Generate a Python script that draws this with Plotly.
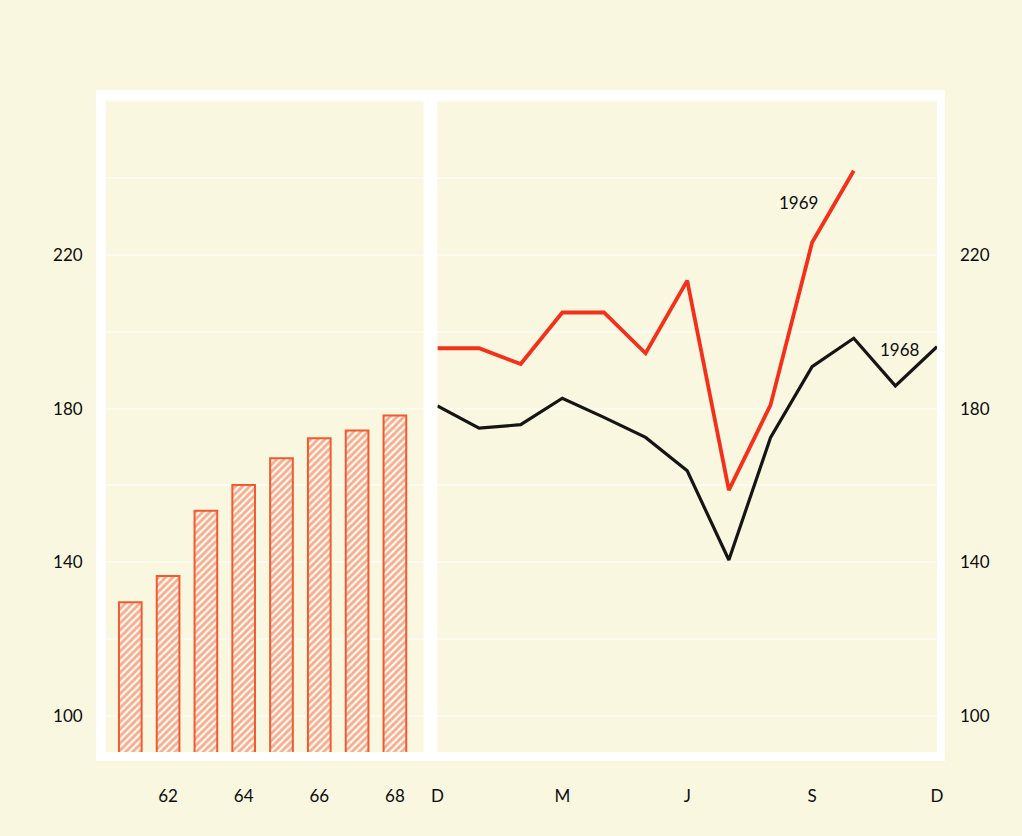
import plotly.graph_objects as go

# ---- data ----
bar_years = [61, 62, 63, 64, 65, 66, 67, 68]
bar_values = [129.6, 136.4, 153.4, 160.1, 167.1, 172.3, 174.3, 178.2]
bar_ticks = [62, 64, 66, 68]

months = list(range(13))  # Dec .. Dec
month_tickvals = [0, 3, 6, 9, 12]
month_ticktext = ["D", "M", "J", "S", "D"]
y1969 = [195.7, 195.7, 191.6, 205.0, 205.0, 194.4, 213.3, 158.8, 180.9, 223.2, 241.9]
y1968 = [180.7, 174.9, 175.8, 182.7, 177.7, 172.5, 163.8, 140.6, 172.4, 190.9, 198.3, 185.9, 196.1]
y_ticks = [100, 140, 180, 220]
y_grid = [100, 120, 140, 160, 180, 200, 220, 240, 260]

W, H = 1022, 836
CREAM = "#f9f7e0"
RED_BAR = "#f25a30"
RED_LINE = "#f5301a"
FONT = "Lato"
TXT = "#0d0d0d"

def px_x(p):
    return p / W

def px_y(p):
    return 1 - p / H

yrange = [90.63, 260.3]
L0, L1 = 101, 423
R0, R1 = 437, 943
T0, B0 = 100, 752

fig = go.Figure()

fig.add_trace(go.Bar(
    x=bar_years, y=bar_values, width=0.6, xaxis="x", yaxis="y",
    marker=dict(color=CREAM, line=dict(color=RED_BAR, width=2),
                pattern=dict(shape="/", fgcolor=RED_BAR, bgcolor="#fdfcf0", size=5, solidity=0.55)),
    showlegend=False, hoverinfo="skip",
))

fig.add_trace(go.Scatter(
    x=months[:len(y1968)], y=y1968, mode="lines", xaxis="x2", yaxis="y2",
    line=dict(color="#151515", width=3.2), showlegend=False, cliponaxis=False,
))
fig.add_trace(go.Scatter(
    x=months[:len(y1969)], y=y1969, mode="lines", xaxis="x2", yaxis="y2",
    line=dict(color=RED_LINE, width=3.8), showlegend=False, cliponaxis=False,
))

axis_font = dict(family=FONT, size=17, color=TXT)
grid_col = "rgba(255,255,255,0.5)"

fig.update_layout(
    width=W, height=H,
    margin=dict(l=0, r=0, t=0, b=0),
    paper_bgcolor=CREAM, plot_bgcolor=CREAM,
    font=axis_font,
    xaxis=dict(domain=[px_x(L0), px_x(L1)], range=[60.35, 68.76],
               tickvals=bar_ticks, ticktext=[str(t) for t in bar_ticks],
               showgrid=False, zeroline=False, showline=False,
               ticks="", ticklabelstandoff=32, tickfont=axis_font),
    yaxis=dict(domain=[px_y(B0), px_y(T0)], range=yrange,
               tickvals=y_grid, ticktext=[str(v) if v in y_ticks else "" for v in y_grid],
               showgrid=True, gridcolor=grid_col, gridwidth=1.5,
               zeroline=False, showline=False, ticks="", ticklabelstandoff=22,
               tickfont=axis_font),
    xaxis2=dict(domain=[px_x(R0), px_x(R1)], range=[0, 12], anchor="y2",
                tickvals=month_tickvals, ticktext=month_ticktext,
                showgrid=False, zeroline=False, showline=False,
                ticks="", ticklabelstandoff=32, tickfont=axis_font),
    yaxis2=dict(domain=[px_y(B0), px_y(T0)], range=yrange, anchor="x2", side="right",
                tickvals=y_grid, ticktext=[str(v) if v in y_ticks else "" for v in y_grid],
                showgrid=True, gridcolor=grid_col, gridwidth=1.5,
                zeroline=False, showline=False, ticks="", ticklabelstandoff=22,
                tickfont=axis_font),
    shapes=[
        dict(type="rect", xref="paper", yref="paper", layer="below",
             x0=px_x(91), x1=px_x(951), y0=px_y(761), y1=px_y(90),
             fillcolor="white", line=dict(width=0)),
        dict(type="rect", xref="paper", yref="paper", layer="below",
             x0=px_x(L0), x1=px_x(L1), y0=px_y(B0), y1=px_y(T0),
             fillcolor=CREAM, line=dict(width=0)),
        dict(type="rect", xref="paper", yref="paper", layer="below",
             x0=px_x(R0), x1=px_x(R1), y0=px_y(B0), y1=px_y(T0),
             fillcolor=CREAM, line=dict(width=0)),
    ],
    annotations=[
        dict(x=8.68, y=233.5, xref="x2", yref="y2", text="1969", showarrow=False,
             font=dict(family=FONT, size=17, color=TXT)),
        dict(x=11.12, y=195.5, xref="x2", yref="y2", text="1968", showarrow=False,
             font=dict(family=FONT, size=17, color=TXT)),
    ],
)

fig.write_html(
    "out.html",
    config={"displayModeBar": False},
    post_script="document.body.style.margin='0';document.body.style.background='%s';" % CREAM,
)
